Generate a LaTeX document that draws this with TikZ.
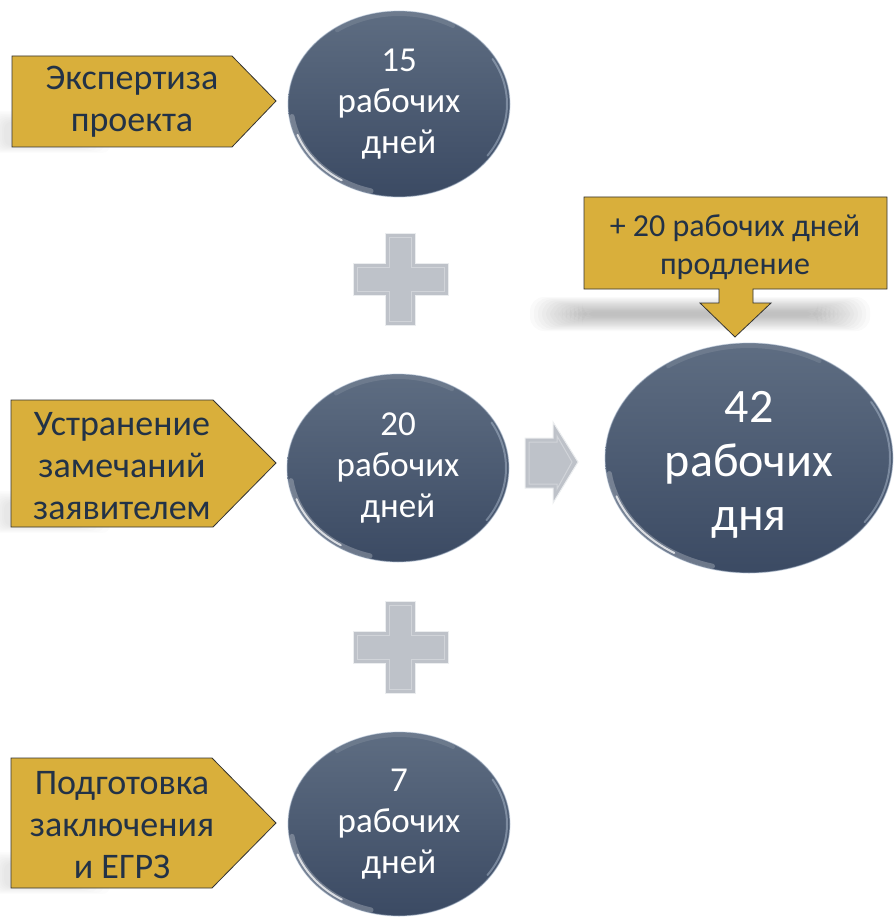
\documentclass[tikz,border=0pt]{standalone}
\usepackage{fontspec}
\setmainfont{Carlito}
\usetikzlibrary{shapes.geometric,calc}
\definecolor{gold}{HTML}{D9AF3B}
\definecolor{ink}{HTML}{223247}
\definecolor{balltop}{HTML}{5E6D82}
\definecolor{ballbot}{HTML}{3B4A63}
\definecolor{plusgray}{HTML}{BEC2C9}
\definecolor{rimblue}{HTML}{B8C6D8}
\tikzset{
  tag/.style={fill=gold, draw=black!80, line width=0.8pt, line join=miter},
  tagtext/.style={text=ink, align=center, inner sep=0pt, font=\fontsize{36}{42}\selectfont},
  ball/.style={ellipse, inner sep=0pt, top color=balltop, bottom color=ballbot,
    text=white, align=center, font=\fontsize{35}{41}\selectfont},
  bigtext/.style={text=white, align=center, inner sep=0pt, font=\fontsize{48}{54}\selectfont},
  greyshape/.style={fill=plusgray, draw=white!70!plusgray, line width=1pt, line join=miter},
  bevel/.style={draw=white!30!plusgray, line width=1pt, line join=miter},
  softshadow/.style={fill=black, opacity=0.018},
}
\begin{document}
\begin{tikzpicture}[x=1pt,y=-1pt]
\useasboundingbox (0,0) rectangle (895,917);

% ---- soft shadows ----
\foreach \i in {0,...,13}{
  \fill[softshadow, rounded corners=14pt] (530+4*\i,297+1.1*\i) rectangle (870-4*\i,331-1.1*\i);
}
\foreach \b in {147,527,888}{
  \foreach \i in {0,...,7}{
    \fill[black, opacity=0.012, rounded corners=8pt] (-10+2*\i,\b-36+1.5*\i) rectangle (110-6*\i,\b+6-1*\i);
  }
}

% ---- left tags ----
\path[tag] (12,56) -- (232,56) -- (276,101) -- (232,147) -- (12,147) -- cycle;
\node[tagtext] (t1) at (132,102) {Экспертиза\\проекта};
\path[tag] (11,400) -- (213,400) -- (276,463) -- (213,527) -- (11,527) -- cycle;
\node[tagtext] (t2) at (122,466) {Устранение\\замечаний\\заявителем};
\path[tag] (11,758) -- (212,758) -- (276,823) -- (212,888) -- (11,888) -- cycle;
\node[tagtext] (t3) at (122,825) {Подготовка\\заключения\\и ЕГРЗ};

% ---- balls ----
\node[ball, minimum width=222pt, minimum height=186pt] (c1) at (399,104) {15\\рабочих\\дней};
\node[ball, minimum width=222pt, minimum height=188pt] (c2) at (398,468) {20\\рабочих\\дней};
\node[ball, minimum width=222pt, minimum height=184pt] (c3) at (399,824) {7\\рабочих\\дней};
\node[ball, minimum width=288pt, minimum height=230pt] (c4) at (749,458) {};
\node[bigtext] (c4t) at (749,465) {42\\рабочих\\дня};

\foreach \c/\rx/\ry/\ra/\rb in {c1/111/93/108/90, c2/111/94/108/91, c3/111/92/108/89, c4/144/115/141/112}{
  \begin{scope}[shift={(\c.center)}, y=1pt]
    \draw[rimblue, opacity=0.45, line width=1.2pt] (0,0) ellipse (\rx pt and \ry pt);
    \draw[white, opacity=0.10, line width=4pt, line cap=round] (60:\ra pt and \rb pt) arc (60:125:\ra pt and \rb pt);
    \draw[white, opacity=0.25, line width=5pt, line cap=round] (188:\ra pt and \rb pt) arc (188:255:\ra pt and \rb pt);
    \draw[white, opacity=0.75, line width=2pt, line cap=round] (200:\ra pt and \rb pt) arc (200:238:\ra pt and \rb pt);
    \draw[rimblue, opacity=0.45, line width=2pt, line cap=round] (-35:\ra pt and \rb pt) arc (-35:30:\ra pt and \rb pt);
  \end{scope}
}

% ---- plus signs ----
\foreach \cy in {279,647}{
  \begin{scope}[shift={(400,\cy)}]
    \path[greyshape] (-15,-46) -- (15,-46) -- (15,-16) -- (48,-16) -- (48,16) -- (15,16) -- (15,46) -- (-15,46) -- (-15,16) -- (-47,16) -- (-47,-16) -- (-15,-16) -- cycle;
    \path[bevel] (-11,-42) -- (11,-42) -- (11,-12) -- (44,-12) -- (44,12) -- (11,12) -- (11,42) -- (-11,42) -- (-11,12) -- (-43,12) -- (-43,-12) -- (-11,-12) -- cycle;
  \end{scope}
}

% ---- block arrow ----
\path[greyshape] (525,438) -- (553,438) -- (553,422) -- (578,462) -- (553,503) -- (553,488) -- (525,488) -- cycle;
\path[bevel] (529,442) -- (557,442) -- (557,436) -- (572,462) -- (557,489) -- (557,484) -- (529,484) -- cycle;

% ---- callout ----
\path[tag] (584,197) -- (887,197) -- (887,289) -- (753,289) -- (753,303) -- (771,303) -- (735,337) -- (700,303) -- (719,303) -- (719,289) -- (584,289) -- cycle;
\node[tagtext, font=\fontsize{32}{38}\selectfont] (t4) at (735,247) {+ 20 рабочих дней\\продление};
\end{tikzpicture}
\end{document}
